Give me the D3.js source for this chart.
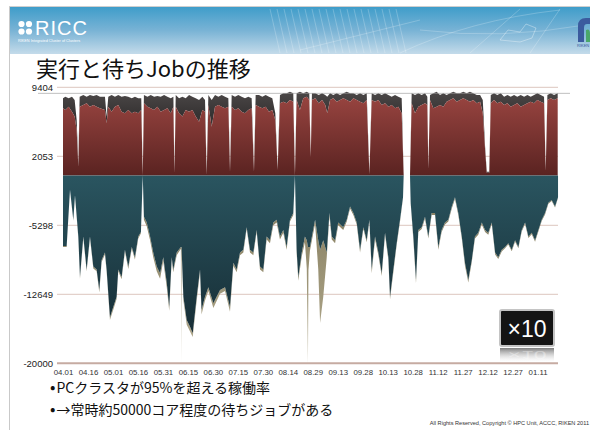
<!DOCTYPE html>
<html><head><meta charset="utf-8">
<script src="https://cdn.jsdelivr.net/npm/d3@7"></script>
<style>
body{margin:0;background:#fff;}
svg{display:block;font-family:"Liberation Sans",Arial,sans-serif;}
</style></head><body>
<svg id="c" width="590" height="430"></svg>
<script>
// ---------- data ----------
const titleText = "実行と待ちJobの推移";
const bullets = ["•PCクラスタが95%を超える稼働率", "•→常時約50000コア程度の待ちジョブがある"];
const footerText = "All Rights Reserved, Copyright © HPC Unit, ACCC, RIKEN 2011";
const badgeText = "×10";
const yTicks = [9404, 2053, -5298, -12649, -20000];
const xTickLabels = ["04.01","04.16","05.01","05.16","05.31","06.15","06.30","07.15","07.30","08.14",
                     "08.29","09.13","09.28","10.13","10.28","11.12","11.27","12.12","12.27","01.11"];
const capacity = 8760;

// running jobs (days since 2010-04-01)
const runDays = [0,1.4,3.4,5.4,7.0,8.2,9.2,10,12.2,14.2,16.2,18.2,20.2,22.2,25.2,26.2,27.2,29.2,31.2,33.2,
  35.2,37.2,39.2,41.3,43.2,45.2,47.0,47.9,48.6,50.7,52.7,54.7,56.7,58.7,60.7,62.7,64.7,66.3,66.9,67.7,
  69.7,71.7,73.7,75.7,77.7,79.7,81.7,83.7,85.3,86.3,87.3,89.3,91.3,93.3,95.3,97.3,99.3,100.3,101.3,103.3,
  105.3,107.3,109.3,111.3,113.3,114.7,115.7,117.7,119.7,121.7,123.7,125.7,127.5,128.9,130.3,132.3,134.3,136.3,138.3,139.3,
  140.3,142.3,144.3,146.4,147.9,148.8,149.5,151.5,153.6,155.6,157.5,158.7,160.4,162.3,164.4,166.4,168.4,170.4,172.4,174.4,
  176.4,178.4,180.4,182.4,184.0,185.4,187.4,189.4,191.4,193.4,195.4,197.4,199.4,201.4,203.4,204.6,208.4,209.4,211.4,213.4,
  215.4,217.4,218.8,219.4,220.4,222.4,224.4,226.4,228.4,230.4,232.4,234.4,236.4,238.4,240.4,242.4,244.4,246.4,248.5,250.5,
  252.1,253.5,254.5,256.0,256.9,258.9,260.8,262.9,264.9,266.9,268.9,270.9,272.8,274.9,276.9,278.9,280.9,282.9,284.9,286.9,
  288.9,289.9,290.9,292.9,294.9,297.1];
const runPC = [7160,6990,7340,6810,6280,4860,950,7340,7520,7700,7340,7520,7340,7160,6990,5570,7340,6810,7340,7520,
  6810,6630,6990,6630,6810,6630,6990,0,7700,7340,7160,6990,7340,6810,6990,7160,6630,7340,250,7340,
  6630,6280,6990,6810,6990,6280,5740,6990,6810,100,7520,5210,7340,7520,7340,7160,7340,420,7340,6990,
  7160,6810,6630,6990,7160,420,7520,7340,7160,7340,6810,6990,5920,600,7700,7870,7700,8050,7870,0,
  8050,6990,8230,8410,8050,1950,8050,8230,7700,8050,7520,6630,8050,8230,7870,8050,8230,8050,7870,8230,
  8050,7870,7700,8050,170,8050,7870,8050,7520,7700,7340,7520,7160,7340,6630,0,0,7700,6630,7340,
  7520,7700,7520,670,8050,7160,7340,7520,7340,7870,8050,8230,7870,8050,8230,8050,7870,8050,7700,7870,
  6630,2730,310,310,7700,8050,7700,7870,7520,7700,7340,7520,7700,7340,7520,7700,7870,7700,8050,7870,
  7700,520,8050,8230,8050,8230];
const runOther = [1070,1420,890,1600,1770,1060,360,1070,1060,710,1240,960,1240,1250,1420,710,1070,1770,1070,1060,
  1600,1850,1420,1600,1600,1600,1240,0,880,1070,1420,1420,1140,1600,1590,1250,1600,1070,50,1240,
  1600,2130,1240,1770,1420,1950,2310,1420,1240,250,1060,2840,1240,890,1240,1250,890,180,1240,1420,
  1420,1600,1600,1420,1070,180,1060,1240,1250,1240,1600,1240,710,170,880,890,1060,890,890,0,
  710,1950,530,530,710,70,710,530,880,710,1060,1780,710,350,890,530,530,890,890,530,
  530,890,880,710,70,710,710,710,1060,1060,1240,890,1420,1070,1600,0,0,1060,1950,1420,
  1060,1060,890,100,530,1600,1600,1060,1420,710,710,710,890,710,710,710,1070,710,880,710,
  1420,350,110,110,880,710,880,890,890,880,1070,1060,710,1240,890,880,540,880,710,710,
  710,80,530,530,530,530];

// waiting jobs
const waitDays = [0,2.2,4.2,6.2,7.2,9.2,10.2,12.2,14.2,16.2,18.2,20.2,21.8,23.2,25.2,26.2,28.2,30.2,32.2,33.2,
  35.2,37.2,39.2,41.3,43.2,45.2,46.8,47.9,48.6,50.3,52.3,54.2,56.3,58.3,60.2,62.3,63.8,65.3,66.2,68.3,
  70.8,71.0,71.2,72.3,74.3,76.3,77.9,80.3,82.3,83.2,85.3,87.3,90.3,94.3,97.3,100.3,102.3,104.3,106.3,108.3,
  110.3,112.3,114.3,116.3,118.3,120.3,122.3,124.3,126.3,128.3,130.3,132.3,134.3,136.3,138.3,139.3,140.3,141.3,143.4,145.3,
  146.4,147.1,147.4,148.3,151.4,153.3,154.4,156.3,158.4,160.0,161.4,163.4,165.3,168.3,170.4,172.4,174.4,176.4,178.4,180.4,
  182.4,184.0,185.4,187.4,189.4,191.4,193.4,195.4,196.4,198.4,200.4,202.4,204.2,204.6,208.4,208.8,210.4,212.0,213.4,215.4,
  217.4,219.4,221.4,223.4,225.4,227.4,229.4,231.4,233.5,235.4,237.4,239.5,241.4,243.4,245.5,247.4,249.4,251.5,253.5,255.4,
  257.5,259.5,261.4,263.5,265.5,267.4,269.5,271.5,273.5,275.5,277.5,279.5,281.5,283.5,285.5,287.5,289.5,291.5,293.5,295.5,
  297.3];
const waitPC = [-7500,-7500,-1500,-4700,-2100,-6500,-10800,-6500,-10000,-6500,-9700,-10000,-12200,-9000,-8200,-10000,-15100,-14000,-12900,-10000,
  -10800,-7900,-9700,-7600,-8700,-6500,-6000,0,-4400,-5000,-6500,-8200,-9700,-10400,-8700,-11400,-14000,-8700,-10000,-8200,
  -7600,-7600,-7600,-12900,-15400,-16100,-16800,-12900,-10000,-14300,-12900,-11900,-13600,-12200,-11900,-14000,-9300,-10000,-8200,-7900,
  -5500,-7900,-8200,-5800,-9700,-10000,-6500,-6900,-5000,-4700,-6500,-5800,-7600,-4700,-4000,0,-7900,-10800,-8200,-6500,
  -6900,-7600,-7600,-7600,-4700,-6900,-7900,-6900,-8200,-4000,-6500,-6900,-5000,-5500,-4700,-3300,-4000,-5000,-7900,-5500,
  -6900,-4700,-10000,-6500,-8200,-10400,-6100,-8700,-12900,-10000,-7200,-4700,-2300,0,0,-2900,-6500,-11100,-5800,-5500,
  -4400,-6500,-4000,-4000,-7600,-5800,-5000,-4700,-3300,-2300,-4000,-6500,-9300,-11100,-9000,-6500,-6100,-5000,-5800,-6100,
  -5000,-8200,-8700,-7900,-7600,-7200,-7900,-6900,-7600,-5800,-5000,-6500,-6100,-6900,-5800,-4700,-4000,-2900,-2600,-3300,
  -2300];
const waitOther = [-100,-100,-50,-100,-50,-150,-200,-150,-200,-150,-200,-200,-250,-200,-200,-250,-300,-300,-250,-200,
  -250,-200,-250,-200,-250,-200,-150,0,-300,-400,-400,-500,-500,-600,-400,-500,-400,-300,-300,-300,
  -200,-12400,-300,-400,-500,-500,-400,-400,-300,-500,-400,-400,-500,-400,-400,-500,-300,-300,-300,-300,
  -200,-300,-300,-200,-300,-300,-300,-300,-300,-300,-300,-300,-300,-200,-200,0,-300,-400,-400,-600,
  -3000,-12400,-2500,-400,-400,-3100,-7800,-6000,-500,-300,-300,-300,-300,-300,-200,-200,-200,-200,-300,-200,
  -200,-200,-400,-300,-300,-300,-200,-300,-300,-300,-200,-200,-100,0,0,-100,-300,-400,-200,-200,
  -200,-200,-200,-200,-300,-200,-200,-200,-200,-200,-200,-200,-300,-300,-200,-200,-200,-200,-200,-200,
  -150,-200,-200,-200,-150,-150,-150,-150,-150,-150,-150,-150,-150,-150,-150,-150,-150,-100,-100,-100,
  -100];

// ---------- drawing ----------
const svg = d3.select("#c");
const t0 = Date.UTC(2010, 3, 1);
const dayDate = d => new Date(t0 + d * 864e5);
const x = d3.scaleUtc().domain([dayDate(0), dayDate(298)]).range([63, 559.2]);
const y = d3.scaleLinear().domain([-20000, 9404]).range([363.3, 87.3]);
const parseTick = s => d3.utcParse("%Y.%m.%d")((+s.slice(0,2) >= 4 ? "2010." : "2011.") + s);
const xTicks = xTickLabels.map(parseTick);

const defs = svg.append("defs");
function vgrad(id, y1, y2, stops) {
  const g = defs.append("linearGradient").attr("id", id).attr("gradientUnits", "userSpaceOnUse")
    .attr("x1", 0).attr("x2", 0).attr("y1", y1).attr("y2", y2);
  stops.forEach(s => g.append("stop").attr("offset", s[0]).attr("stop-color", s[1]).attr("stop-opacity", s[2] == null ? 1 : s[2]));
}
vgrad("banner", 7, 54, [[0, "#3f9dca"], [0.5, "#79b3d5"], [1, "#c4dbea"]]);
vgrad("red", y(8500), y(0), [[0, "#984440"], [1, "#5a2321"]]);
vgrad("dark", y(9000), y(6500), [[0, "#4c4848"], [1, "#363333"]]);
vgrad("teal", y(0), y(-17000), [[0, "#2a5560"], [1, "#172d35"]]);
vgrad("khaki", y(-5000), y(-20000), [[0, "#8c8466"], [1, "#b4ac90"]]);
vgrad("refl", 348, 362, [[0, "#6f6f6f", 0.9], [1, "#ffffff", 0.2]]);

// slide frame
svg.append("line").attr("x1", 9.5).attr("x2", 9.5).attr("y1", 6).attr("y2", 430).attr("stroke", "#c9c9c9");
svg.append("line").attr("x1", 9).attr("x2", 590).attr("y1", 6.5).attr("y2", 6.5).attr("stroke", "#cfcfcf");

// header banner
svg.append("rect").attr("x", 10).attr("y", 7).attr("width", 580).attr("height", 47).attr("fill", "url(#banner)");
const art = svg.append("g").attr("stroke", "#ffffff").attr("fill", "none").attr("stroke-opacity", 0.22);
d3.range(270, 400, 7).forEach(v => art.append("line").attr("x1", v).attr("x2", v + 10).attr("y1", 9).attr("y2", 53));
art.append("path").attr("d", "M300,50 L420,20 M400,53 Q470,20 560,10 M420,30 Q500,40 585,25 M470,53 L520,9 M530,53 L560,9");
art.append("path").attr("d", "M500,40 l8,-10 l12,2 l6,-8 l10,4 l-4,10 l-12,4 z").attr("stroke-opacity", 0.35);
// RICC logo
const logo = svg.append("g").attr("fill", "#ffffff");
[[21.5, 24], [29, 24], [21.5, 31.5], [29, 31.5]].forEach(c => logo.append("circle").attr("cx", c[0]).attr("cy", c[1]).attr("r", 3.1));
logo.append("text").attr("x", 35).attr("y", 35).attr("font-size", 20).attr("letter-spacing", 1).text("RICC");
logo.append("text").attr("x", 18).attr("y", 41.5).attr("font-size", 3.8).text("RIKEN Integrated Cluster of Clusters");
// RIKEN mark (partial, right edge)
svg.append("path").attr("d", "M578,42 L578,26 Q578,18 586,18 L590,18 L590,24 L587,24 Q584,24 584,28 L584,42 Z").attr("fill", "#3b5b9e");
svg.append("path").attr("d", "M586,30 Q590,28 590,34 L590,42 L586,42 Z").attr("fill", "#4aa86a");
svg.append("text").attr("x", 577).attr("y", 47).attr("font-size", 4).attr("fill", "#3b5b9e").text("RIKEN");

// title
svg.append("text").attr("x", 36).attr("y", 77).attr("font-family", "'Noto Sans CJK JP'")
  .attr("font-size", 22).attr("fill", "#111").text(titleText);

// gridlines
const grid = svg.append("g");
yTicks.forEach(v => grid.append("line").attr("x1", 57).attr("x2", 558).attr("y1", y(v)).attr("y2", y(v))
  .attr("stroke", v === -20000 ? "#c6aba2" : "#dcc6be").attr("stroke-width", v === -20000 ? 2 : 1));

// areas
const runData = runDays.map((d, i) => ({ t: dayDate(d), a: runPC[i], b: runPC[i] + runOther[i] }));
const waitData = waitDays.map((d, i) => ({ t: dayDate(d), a: waitPC[i], b: waitPC[i] + waitOther[i] }));
const areaA = d3.area().x(d => x(d.t)).y0(y(0)).y1(d => y(d.a));
const areaB = d3.area().x(d => x(d.t)).y0(d => y(d.a)).y1(d => y(d.b));
svg.append("path").datum(runData).attr("d", areaB).attr("fill", "url(#dark)");
svg.append("path").datum(runData).attr("d", areaA).attr("fill", "url(#red)");
svg.append("path").datum(waitData).attr("d", areaB).attr("fill", "url(#khaki)");
svg.append("path").datum(waitData).attr("d", areaA).attr("fill", "url(#teal)");

// capacity line
svg.append("line").attr("x1", 38).attr("x2", 570).attr("y1", y(capacity)).attr("y2", y(capacity))
  .attr("stroke", "#9c9c9c").attr("stroke-width", 0.8).attr("opacity", 0.8);

// y labels
const yAxis = svg.append("g").attr("transform", "translate(53,0)")
  .call(d3.axisLeft(y).tickValues(yTicks).tickSize(0).tickPadding(0).tickFormat(d => String(d)));
yAxis.select(".domain").remove();
yAxis.selectAll("text").attr("font-size", 9.5).attr("fill", "#222").attr("font-family", "'Liberation Sans',Arial,sans-serif");

// x labels
const xAxis = svg.append("g").attr("transform", "translate(0,369)")
  .call(d3.axisBottom(x).tickValues(xTicks).tickSize(0).tickPadding(0).tickFormat(d3.utcFormat("%m.%d")));
xAxis.select(".domain").remove();
xAxis.selectAll("text").attr("font-size", 7.8).attr("fill", "#333").attr("font-family", "'Liberation Sans',Arial,sans-serif");

// x10 badge
svg.append("rect").attr("x", 500).attr("y", 310).attr("width", 54).attr("height", 36).attr("rx", 2)
  .attr("fill", "#141414").attr("stroke", "#c4c4c4").attr("stroke-width", 2);
svg.append("text").attr("x", 527).attr("y", 337).attr("text-anchor", "middle").attr("font-size", 23)
  .attr("fill", "#fff").text(badgeText);
svg.append("rect").attr("x", 500).attr("y", 348).attr("width", 54).attr("height", 14).attr("fill", "url(#refl)");
svg.append("text").attr("transform", "translate(527,351) scale(1,-0.45)").attr("text-anchor", "middle")
  .attr("font-size", 23).attr("fill", "#fff").attr("opacity", 0.35).text(badgeText);

// bullets
bullets.forEach((b, i) => {
  const t = svg.append("text").attr("x", 50).attr("y", 393 + i * 22)
    .attr("font-family", "'Noto Sans CJK JP'").attr("font-size", 14).attr("fill", "#111");
  t.append("tspan").attr("font-size", 16).text(b.slice(0, 1));
  t.append("tspan").attr("dx", 1).text(b.slice(1));
});

// footer
svg.append("text").attr("x", 589).attr("y", 425).attr("text-anchor", "end").attr("font-size", 5.6)
  .attr("fill", "#333").text(footerText);
</script>
</body></html>
